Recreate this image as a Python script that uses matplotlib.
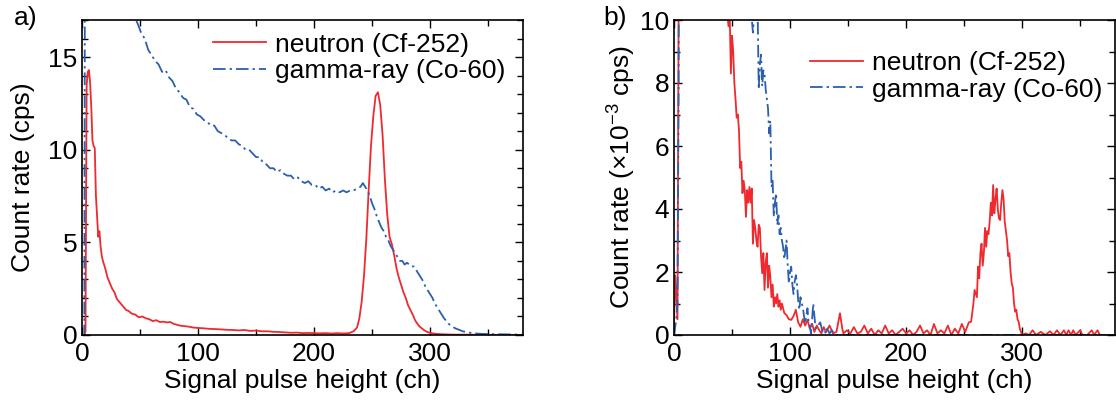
import matplotlib

matplotlib.use("Agg")
import matplotlib.pyplot as plt
from matplotlib.ticker import MultipleLocator

OUTPUT_FILE = "out.png"
RED = "#ee2a2f"
BLUE = "#2c5fae"
DASHDOT = (0, (7, 2.2, 1.3, 2.2))

# ---- panel a): count rate in cps ----
neutron_a_x = [0, 2, 3, 4, 5, 6, 7, 8, 9, 10, 11, 12, 13, 14, 15, 16, 17, 18, 20, 22, 24, 26, 28,
               30, 32, 34, 36, 38, 40, 43, 46, 49, 52, 55, 58, 61, 64, 67, 70, 73, 76, 79, 82, 85,
               88, 92, 96, 100, 105, 110, 115, 120, 125, 130, 135, 140, 145, 150, 155, 160, 165,
               170, 175, 180, 185, 190, 195, 200, 205, 210, 215, 220, 225, 230, 234, 237, 239, 241,
               243, 245, 247, 249, 251, 253, 255, 257, 259, 261, 263, 265, 267, 269, 271, 273, 275,
               277, 279, 281, 283, 285, 287, 289, 291, 293, 295, 298, 301, 305, 310, 315, 320, 330,
               340, 350, 360, 370, 380]
neutron_a_y = [0, 0, 0.2, 13.5, 14.2, 14.3, 13.6, 12.3, 10.5, 10.2, 10.1, 7.5, 6.4, 5.3, 5.6, 4.8,
               4.3, 4.0, 3.6, 3.1, 2.8, 2.5, 2.3, 1.95, 1.8, 1.65, 1.5, 1.35, 1.3, 1.15, 1.1, 0.95,
               1.0, 0.9, 0.85, 0.75, 0.8, 0.7, 0.72, 0.68, 0.7, 0.6, 0.55, 0.5, 0.48, 0.45, 0.4,
               0.38, 0.36, 0.33, 0.32, 0.3, 0.28, 0.27, 0.25, 0.27, 0.22, 0.24, 0.2, 0.2, 0.17,
               0.16, 0.14, 0.12, 0.13, 0.1, 0.11, 0.1, 0.09, 0.1, 0.08, 0.1, 0.08, 0.1, 0.2, 0.4,
               0.9, 1.8, 3.2, 5.2, 7.8, 10.2, 11.8, 12.9, 13.1, 12.4, 10.8, 8.4, 6.5, 5.3, 4.9,
               4.3, 3.6, 3.1, 2.7, 2.3, 2.0, 1.6, 1.35, 1.1, 0.8, 0.6, 0.45, 0.35, 0.25, 0.15,
               0.1, 0.06, 0.04, 0.03, 0.02, 0.02, 0.01, 0.01, 0, 0, 0]

gamma_a_x = [0, 2, 3, 10, 20, 30, 40, 45, 48, 51, 54, 57, 60, 63, 66, 69, 72, 75, 78, 81, 84, 87,
             90, 93, 96, 99, 102, 105, 108, 111, 114, 117, 120, 123, 126, 129, 132, 135, 138, 141,
             144, 147, 150, 153, 156, 159, 162, 165, 168, 171, 174, 177, 180, 183, 186, 189, 192,
             195, 198, 201, 204, 207, 210, 213, 216, 219, 222, 225, 228, 231, 234, 237, 240, 242,
             244, 246, 248, 250, 252, 254, 256, 258, 260, 262, 264, 266, 268, 270, 272, 274, 276,
             278, 280, 282, 284, 286, 288, 290, 292, 294, 296, 298, 300, 302, 304, 306, 308, 310,
             312, 314, 316, 318, 320, 322, 325, 328, 332, 336, 340, 345, 350, 360, 370, 380]
gamma_a_y = [0, 0, 40, 35, 28, 22, 18.5, 17.2, 16.8, 16.3, 16.0, 15.4, 15.1, 14.8, 14.6, 14.2,
             14.3, 13.9, 13.7, 13.3, 13.1, 12.8, 12.7, 12.3, 12.2, 11.9, 11.8, 11.6, 11.5, 11.3,
             11.3, 11.0, 10.9, 10.8, 10.6, 10.5, 10.5, 10.3, 10.2, 10.0, 10.0, 9.8, 9.6, 9.6, 9.3,
             9.2, 9.0, 9.0, 8.8, 8.9, 8.7, 8.6, 8.6, 8.4, 8.5, 8.3, 8.2, 8.3, 8.1, 8.1, 7.9, 8.0,
             7.8, 7.9, 7.7, 7.8, 7.7, 7.8, 7.7, 7.8, 7.8, 7.9, 8.0, 8.2, 8.0, 7.8, 7.5, 7.1, 6.8,
             6.4, 6.1, 5.8, 5.6, 5.3, 5.1, 4.8, 4.6, 4.4, 4.2, 4.0, 4.0, 3.8, 3.9, 3.8, 3.7, 3.7,
             3.5, 3.3, 3.1, 2.9, 2.6, 2.4, 2.2, 2.0, 1.7, 1.5, 1.3, 1.1, 0.9, 0.75, 0.6, 0.5,
             0.42, 0.35, 0.28, 0.2, 0.15, 0.1, 0.08, 0.06, 0.05, 0.04, 0.03, 0.02]

# ---- panel b): count rate in 1e-3 cps ----
neutron_b_x = [0, 1, 2, 3, 4, 5, 20, 35, 45, 47, 48, 49, 50, 51, 52, 53, 54, 55, 56, 57, 58, 59,
               60, 61, 62, 63, 64, 65, 66, 67, 68, 69, 70, 71, 72, 73, 74, 75, 76, 77, 78, 79, 80,
               81, 82, 83, 84, 85, 86, 87, 88, 89, 90, 91, 92, 93, 95, 97, 99, 101, 103, 105, 107,
               109, 111, 113, 115, 117, 119, 121, 123, 125, 127, 129, 131, 134, 137, 140, 143, 145,
               146, 149, 152, 155, 158, 161, 164, 167, 170, 173, 176, 179, 182, 185, 188, 191, 194,
               197, 200, 203, 206, 209, 212, 215, 218, 221, 224, 227, 230, 233, 236, 239, 242, 245,
               248, 251, 254, 256, 258, 259, 261, 262, 263, 264, 265, 266, 267, 268, 269, 270, 271,
               272, 273, 274, 275, 276, 277, 278, 279, 280, 281, 282, 283, 284, 285, 286, 287, 288,
               289, 290, 291, 292, 293, 294, 295, 296, 297, 298, 300, 303, 306, 309, 312, 316, 320,
               324, 327, 330, 333, 336, 338, 340, 342, 344, 346, 350, 352, 356, 360, 362, 365, 367,
               372, 380]
neutron_b_y = [0.3, 1.9, 1.2, 0.5, 10, 40, 25, 15, 10.5, 9.8, 10.2, 8.3, 9.5, 9.0, 8.0, 7.5, 6.9,
               7.0, 6.5, 5.3, 5.5, 4.5, 4.9, 4.6, 3.75, 4.6, 4.2, 4.7, 4.2, 4.65, 2.9, 3.65, 3.4,
               3.0, 2.8, 3.5, 3.4, 2.5, 1.96, 2.6, 1.43, 2.3, 2.6, 1.5, 2.2, 1.85, 1.2, 1.6, 0.9,
               1.2, 1.0, 1.3, 0.9, 1.1, 0.8, 1.0, 0.7, 0.63, 0.5, 0.48, 0.6, 0.8, 0.4, 0.26, 0.5,
               0.3, 0.48, 0.2, 0.35, 0.1, 0.3, 0.16, 0.05, 0.25, 0.1, 0.3, 0.05, 0.1, 0.69, 0.2,
               0.05, 0.15, 0.05, 0.25, 0.05, 0.1, 0.3, 0.05, 0.2, 0.0, 0.15, 0.05, 0.3, 0.05, 0.15,
               0.0, 0.1, 0.2, 0.05, 0.15, 0.0, 0.1, 0.3, 0.05, 0.15, 0.0, 0.35, 0.05, 0.15, 0.05,
               0.3, 0.0, 0.2, 0.05, 0.35, 0.1, 0.4, 0.42, 1.0, 1.43, 1.2, 2.17, 1.8, 2.6, 2.9, 2.2,
               2.6, 3.4, 2.8, 3.3, 3.2, 3.6, 4.2, 3.8, 4.76, 3.86, 4.3, 4.65, 4.0, 3.7, 3.65, 4.2,
               4.6, 4.3, 3.6, 3.3, 3.0, 2.5, 2.6, 2.0, 1.64, 1.5, 1.0, 0.74, 0.8, 0.5, 0.42, 0.2,
               0.0, 0.05, 0.0, 0.15, 0.0, 0.1, 0.0, 0.12, 0.0, 0.15, 0.0, 0.15, 0.0, 0.15, 0.0,
               0.15, 0.0, 0.15, 0.0, 0.0, 0.15, 0.0, 0.15, 0.0, 0.0, 0.0]

gamma_b_x = [0, 2, 3, 4, 5, 20, 40, 60, 66, 68, 69, 70, 72, 73, 74, 75, 76, 77, 78, 79, 80, 81,
             82, 83, 84, 85, 86, 87, 88, 89, 90, 91, 92, 93, 94, 95, 96, 97, 98, 99, 100, 101, 102,
             103, 104, 105, 106, 107, 108, 109, 110, 111, 112, 113, 114, 115, 116, 117, 118, 119,
             120, 121, 122, 124, 126, 128, 129, 131, 132, 134, 136, 137, 139, 141, 380]
gamma_b_y = [0, 0.5, 1.0, 8, 40, 35, 25, 15, 10.5, 9.6, 10.2, 11, 10.5, 7.8, 8.6, 8.9, 7.9, 8.4,
             8.3, 7.8, 7.5, 7.2, 6.4, 6.8, 4.7, 4.9, 3.75, 4.2, 4.5, 3.5, 3.8, 3.2, 3.4, 3.0, 2.8,
             2.4, 2.7, 3.0, 2.2, 1.64, 2.0, 2.17, 1.6, 1.3, 1.7, 1.9, 1.64, 1.1, 0.8, 1.2, 1.0,
             0.9, 0.6, 0.37, 0.6, 0.85, 0.4, 0.3, 0.05, 0.5, 1.0, 0.6, 0.2, 0.3, 0.4, 0.1, 0.16,
             0.05, 0.2, 0.05, 0.15, 0.1, 0.0, 0, 0]

NEUTRON_LABEL = "neutron (Cf-252)"
GAMMA_LABEL = "gamma-ray (Co-60)"
XLABEL = "Signal pulse height (ch)"


def style_axis(axis, ymax, ymajor, legend_anchor):
    axis.set_xlim(0, 380)
    axis.set_ylim(0, ymax)
    axis.xaxis.set_major_locator(MultipleLocator(100))
    axis.xaxis.set_minor_locator(MultipleLocator(50))
    axis.yaxis.set_major_locator(MultipleLocator(ymajor))
    axis.yaxis.set_minor_locator(MultipleLocator(1))
    axis.tick_params(which="both", direction="in", top=True, right=True, width=1.0)
    axis.tick_params(which="major", length=6)
    axis.tick_params(which="minor", length=4.5)
    axis.tick_params(axis="x", pad=5)
    axis.tick_params(axis="y", pad=3.5)
    for spine in axis.spines.values():
        spine.set_linewidth(1.2)
    axis.set_xlabel(XLABEL, labelpad=2)
    axis.legend(
        loc="upper left",
        bbox_to_anchor=legend_anchor,
        frameon=False,
        borderpad=0,
        borderaxespad=0,
        handlelength=2.0,
        handletextpad=0.35,
        labelspacing=0.1,
    )


def main():
    plt.rcParams["font.family"] = ["Liberation Sans", "DejaVu Sans"]
    plt.rcParams["font.size"] = 19
    plt.rcParams["mathtext.fontset"] = "custom"
    plt.rcParams["mathtext.rm"] = "Liberation Sans"
    plt.rcParams["mathtext.it"] = "Liberation Sans:italic"

    fig = plt.figure(figsize=(11.16, 4.0), dpi=100)
    ax_a = fig.add_axes([82 / 1116, 1 - 335 / 400, 441 / 1116, 315 / 400])
    ax_b = fig.add_axes([674 / 1116, 1 - 335 / 400, 441 / 1116, 315 / 400])

    for axis, nx, ny, gx, gy in (
        (ax_a, neutron_a_x, neutron_a_y, gamma_a_x, gamma_a_y),
        (ax_b, neutron_b_x, neutron_b_y, gamma_b_x, gamma_b_y),
    ):
        axis.plot(nx, ny, color=RED, linewidth=1.3, label=NEUTRON_LABEL)
        axis.plot(gx, gy, color=BLUE, linewidth=1.3, linestyle=DASHDOT, label=GAMMA_LABEL)

    style_axis(ax_a, 17, 5, (0.297, 0.96))
    style_axis(ax_b, 10, 2, (0.308, 0.902))
    ax_a.set_ylabel("Count rate (cps)", labelpad=9)
    ax_b.set_ylabel("Count rate (\u00d710$^{-3}$ cps)", labelpad=1)

    fig.text(14 / 1116, 1 - 6 / 400, "a)", ha="left", va="top")
    fig.text(603 / 1116, 1 - 6 / 400, "b)", ha="left", va="top")

    fig.savefig(OUTPUT_FILE, dpi=100)
    plt.close(fig)


if __name__ == "__main__":
    main()
